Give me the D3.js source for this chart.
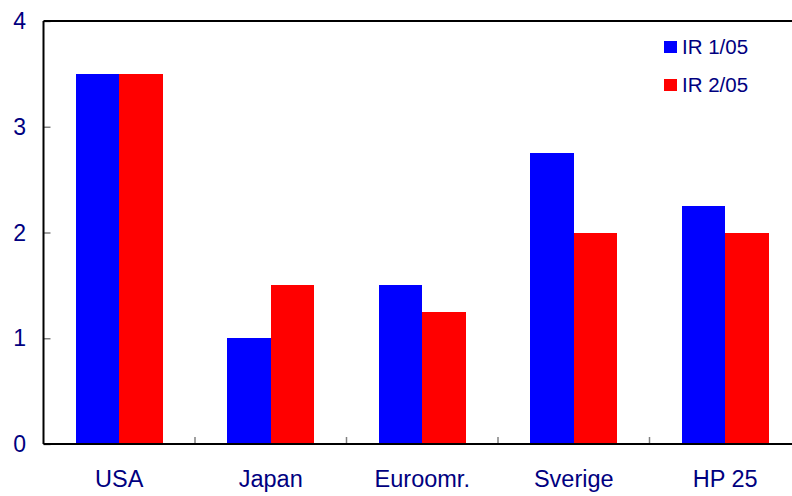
<!DOCTYPE html>
<html><head><meta charset="utf-8">
<script src="https://cdn.jsdelivr.net/npm/d3@7"></script>
<style>body{margin:0;background:#fff}svg{display:block}</style>
</head><body>
<script>
const categories = ["USA", "Japan", "Euroomr.", "Sverige", "HP 25"];
const seriesNames = ["IR 1/05", "IR 2/05"];
const ir105 = [3.5, 1.0, 1.5, 2.75, 2.25];
const ir205 = [3.5, 1.5, 1.25, 2.0, 2.0];
const yTicks = [0, 1, 2, 3, 4];
const colors = ["#0000ff", "#ff0000"];

const W = 792, H = 496;
const m = {left: 43.5, top: 21, right: -9, bottom: 52};
const svg = d3.select("body").append("svg").attr("width", W).attr("height", H);
const x = d3.scaleBand().domain(categories).range([m.left, W - m.right]).paddingInner(0).paddingOuter(0);
const y = d3.scaleLinear().domain([0, 4]).range([H - m.bottom, m.top]);
const xs = d3.scaleBand().domain(seriesNames).range([0, x.bandwidth()]).paddingInner(0).paddingOuter(0.745);
const textColor = "#000080";
const font = "Liberation Sans, Arial, sans-serif";

const series = [ir105, ir205];
series.forEach((vals, si) => {
  svg.append("g").attr("shape-rendering", "crispEdges").selectAll("rect").data(vals).join("rect")
    .attr("x", (d, i) => x(categories[i]) + xs(seriesNames[si]))
    .attr("width", xs.bandwidth())
    .attr("y", d => y(d))
    .attr("height", d => y(0) - y(d))
    .attr("fill", colors[si]);
});

// y axis ticks (inside)
const ya = svg.append("g").attr("transform", `translate(${m.left},0)`)
  .call(d3.axisRight(y).tickValues(yTicks).tickSize(7).tickFormat(""));
ya.select(".domain").remove();
ya.selectAll("line").attr("stroke", "#808080").attr("stroke-width", 1.5);
svg.append("g").selectAll("text").data(yTicks).join("text")
  .attr("x", 26).attr("y", d => y(d) + 8)
  .attr("text-anchor", "end").attr("font-family", font).attr("font-size", 23)
  .attr("fill", textColor).text(d => d);

// x axis category boundary ticks (inside)
const bounds = categories.slice(1).map(c => x(c));
svg.append("g").selectAll("line").data(bounds).join("line")
  .attr("x1", d => d).attr("x2", d => d)
  .attr("y1", y(0)).attr("y2", y(0) - 7)
  .attr("stroke", "#808080").attr("stroke-width", 1.5);
svg.append("g").selectAll("text").data(categories).join("text")
  .attr("x", d => x(d) + x.bandwidth() / 2).attr("y", 487)
  .attr("text-anchor", "middle").attr("font-family", font).attr("font-size", 23.5)
  .attr("fill", textColor).text(d => d);

// frame lines
svg.append("line").attr("x1", m.left).attr("x2", W).attr("y1", y(0)).attr("y2", y(0)).attr("stroke", "#000").attr("stroke-width", 2);
svg.append("line").attr("x1", m.left).attr("x2", W).attr("y1", y(4)).attr("y2", y(4)).attr("stroke", "#000").attr("stroke-width", 2);
svg.append("line").attr("x1", m.left).attr("x2", m.left).attr("y1", y(4)).attr("y2", y(0)).attr("stroke", "#000").attr("stroke-width", 2);

// legend
const lg = svg.append("g");
seriesNames.forEach((s, i) => {
  lg.append("rect").attr("x", 664).attr("y", 41 + i * 38).attr("width", 13).attr("height", 12).attr("fill", colors[i]);
  lg.append("text").attr("x", 682).attr("y", 54 + i * 38).attr("font-family", font).attr("font-size", 20.5)
    .attr("fill", textColor).text(s);
});
</script>
</body></html>
